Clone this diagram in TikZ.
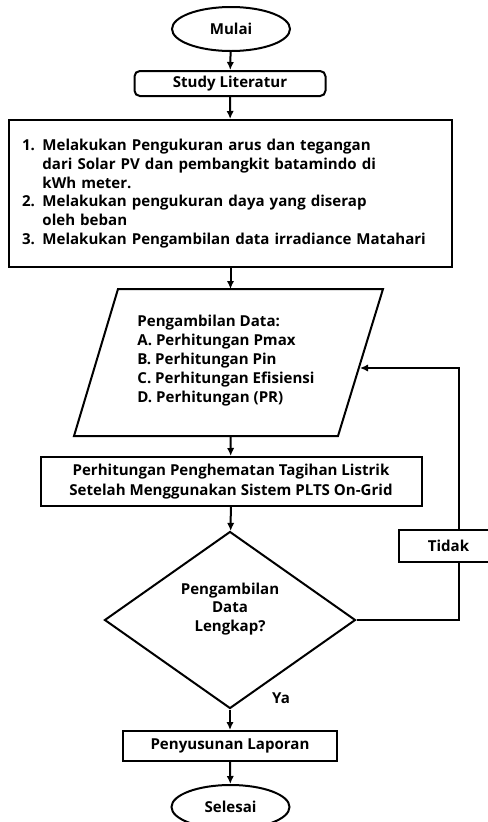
\documentclass[tikz,border=0pt]{standalone}
\usepackage{fontspec}
\setmainfont{Open Sans}
\usetikzlibrary{shapes.geometric,arrows.meta}

\begin{document}
\begin{tikzpicture}[x=0.75pt,y=-0.75pt,line width=1.5pt,
  font=\bfseries\fontsize{11.3}{14.1}\selectfont,
  terminal/.style={draw,ellipse,minimum width=88.5pt,minimum height=33pt,inner sep=0pt},
  proses/.style={draw,rectangle,inner sep=0pt},
  keputusan/.style={draw,diamond,minimum width=188.25pt,minimum height=132.75pt,inner sep=0pt},
  panah/.style={-{Latex[length=6pt,width=5.5pt]}}]
\useasboundingbox (0,0) rectangle (488,822);

\node[terminal] (mulai) at (231,29) {Mulai};
\node[proses,rounded corners=4pt,minimum width=143.25pt,minimum height=18.75pt] (study) at (230,83.5) {Study Literatur};
\node[proses,minimum width=332.25pt,minimum height=110.25pt,text width=312.75pt,align=left] (ukur) at (230.5,193.5)
  {1. Melakukan Pengukuran arus dan tegangan\\
   \phantom{1. }dari Solar PV dan pembangkit batamindo di\\
   \phantom{1. }kWh meter.\\
   2. Melakukan pengukuran daya yang diserap\\
   \phantom{2. }oleh beban\\
   3. Melakukan Pengambilan data irradiance Matahari};

\coordinate (p1) at (118,289);
\coordinate (p2) at (383,289);
\coordinate (p3) at (338,436);
\coordinate (p4) at (74,436);
\draw (p1) -- (p2) -- (p3) -- (p4) -- cycle;
\node[anchor=west,align=left,font=\bfseries\fontsize{11.3}{14.25}\selectfont] (data) at (132,361)
  {Pengambilan Data:\\A. Perhitungan Pmax\\B. Perhitungan Pin\\C. Perhitungan Efisiensi\\D. Perhitungan (PR)};

\node[proses,minimum width=285.75pt,minimum height=36.75pt,align=center,font=\bfseries\fontsize{11.3}{15}\selectfont] (hemat) at (231,481.5)
  {Perhitungan Penghematan Tagihan Listrik\\Setelah Menggunakan Sistem PLTS On-Grid};
\node[keputusan] (cek) at (230,620) {};
\node[align=center] (cektxt) at (230,609) {Pengambilan\\Data\\Lengkap?};
\node (ya) at (281,698) {Ya};
\node[proses,minimum width=160.5pt,minimum height=22.5pt] (lapor) at (230,746) {Penyusunan Laporan};
\node[terminal] (selesai) at (230.5,807) {Selesai};
\node[proses,minimum width=74.25pt,minimum height=24pt] (tidak) at (448.5,546) {Tidak};

\draw[panah] (mulai) -- (study);
\draw[panah] (study) -- (ukur);
\draw[panah] (ukur) -- (ukur.south |- p1);
\draw[panah] (ukur.south |- p4) -- (hemat);
\draw[panah] (hemat) -- (cek);
\draw[panah] (cek) -- (lapor);
\draw[panah] (lapor) -- (selesai);

\coordinate (balik) at (459,368);
\coordinate (masuk) at (360,368);
\draw (cek.east) -- (cek.east -| balik) -- (balik |- tidak.south);
\draw[panah] (balik |- tidak.north) -- (balik) -- (masuk);
\end{tikzpicture}
\end{document}
